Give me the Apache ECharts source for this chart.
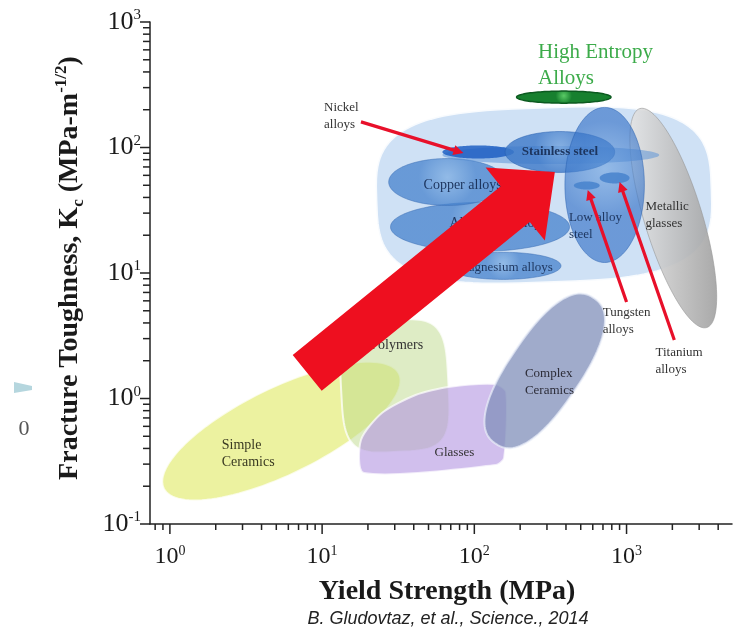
<!DOCTYPE html>
<html>
<head>
<meta charset="utf-8">
<script src="https://cdn.jsdelivr.net/npm/echarts@6/dist/echarts.min.js"></script>
<style>
  html, body { margin: 0; padding: 0; background: #fff; }
  #chart { width: 735px; height: 636px; }
</style>
</head>
<body>
<div id="chart"></div>
<script>
// axes: yield strength (MPa) vs fracture toughness (MPa·m^1/2), both log
const xRange = [0.74, 4930];
const yRange = [0.1, 1000];

// material fields: [x centre, y centre, half width (x decades), half height (y decades), tilt deg, squareness]
const simpleCeramics = [[5.4, 0.55, 0.86, 0.345, -26, 2]];
const polymers = [[30.0, 1.26, 0.353, 0.526, -3, 4]];
const complexCeramics = [[290, 1.66, 0.235, 0.70, 34, 2.4]];
const metalsEnvelope = [[287, 41.8, 1.105, 0.70, -2, 3.3]];
const metallicGlasses = [[2028, 27.4, 0.19, 0.912, -17, 2]];
const aluminumAlloys = [[109, 23.3, 0.588, 0.195, 0, 2]];
const copperAlloys = [[66.6, 53.1, 0.386, 0.187, 0, 2]];
const magnesiumAlloys = [[155, 11.4, 0.379, 0.108, 0, 2]];
const nickelBand = [[318, 87.1, 0.712, 0.072, 0, 2]];
const nickelAlloys = [[106, 92.1, 0.235, 0.052, 0, 2]];
const stainlessSteel = [[365, 92.1, 0.36, 0.163, 0, 2]];
const lowAlloySteel = [[718, 50.3, 0.261, 0.618, 0, 2]];
const tungstenAlloys = [[548, 49.8, 0.085, 0.032, 0, 2]];
const titaniumAlloys = [[835, 57.2, 0.098, 0.044, 0, 2]];
const highEntropyAlloys = [[387, 252, 0.31, 0.048, 0, 2]];

// glasses field outline (x, y)
const glassesOutline = [
  [18.8, 0.255], [18.0, 0.467], [24.7, 0.766], [41.1, 1.066], [67.6, 1.235],
  [137, 1.305], [162, 1.127], [157, 0.336], [139, 0.295]
];

// arrows: [x from, y from, x to, y to]
const trendArrow = [[7.98, 1.60, 338, 63.8]];
const pointerArrows = [
  [18.0, 160, 84.8, 90.4],   // nickel
  [1000, 5.87, 556, 45.9],   // tungsten
  [2060, 2.93, 900, 53.1]    // titanium
];

// labels and where they sit (x, y)
const labelTexts = ['Nickel\nalloys', 'Stainless steel', 'Copper alloys', 'Aluminum alloys',
  'Magnesium alloys', 'Low alloy\nsteel', 'Metallic\nglasses', 'Tungsten\nalloys',
  'Titanium\nalloys', 'Polymers', 'Simple\nCeramics', 'Complex\nCeramics', 'Glasses',
  'High Entropy\nAlloys'];
const labelAnchors = [[10.3, 178], [365, 92.1], [46.4, 50.3], [143.6, 25.0],
  [328, 10.96], [418, 23.7], [1331, 29.2], [697, 4.15],
  [1548, 1.97], [30.9, 2.67], [2.19, 0.365], [215, 1.34], [74, 0.368],
  [262, 454]];

const xMinorTicks = [];
const yMinorTicks = [];
for (let d = -1; d <= 3; d++) {
  for (let k = 2; k <= 9; k++) {
    const v = k * Math.pow(10, d);
    if (v > xRange[0] && v < xRange[1]) xMinorTicks.push(v);
    if (d < 3 && v > yRange[0] && v < yRange[1]) yMinorTicks.push(v);
  }
}
const xMajorTicks = [1, 10, 100, 1000];
const yMajorTicks = [0.1, 1, 10, 100, 1000];

const SERIF = '"Liberation Serif", "DejaVu Serif", serif';

const labelStyles = [
  { size: 13, color: '#333', align: 'left' },
  { size: 13, color: '#1d355e', align: 'center', weight: 'bold' },
  { size: 14, color: '#1d355e', align: 'left' },
  { size: 14, color: '#1d355e', align: 'center' },
  { size: 13, color: '#1d355e', align: 'right' },
  { size: 13, color: '#1d355e', align: 'left' },
  { size: 13, color: '#333', align: 'left' },
  { size: 13, color: '#333', align: 'left' },
  { size: 13, color: '#333', align: 'left' },
  { size: 14, color: '#333', align: 'center' },
  { size: 14, color: '#3a3a22', align: 'left' },
  { size: 13, color: '#2c2c38', align: 'left' },
  { size: 13, color: '#333', align: 'center' },
  { size: 21, color: '#3cab4a', align: 'left', lh: 26 }
];

function decades(api) {
  const o = api.coord([1, 1]);
  return [api.coord([10, 1])[0] - o[0], o[1] - api.coord([1, 10])[1]];
}

function fieldPoints(api) {
  const c = api.coord([api.value(0), api.value(1)]);
  const dec = decades(api);
  const rx = api.value(2) * dec[0], ry = api.value(3) * dec[1];
  const th = api.value(4) * Math.PI / 180, n = api.value(5);
  const pts = [];
  for (let i = 0; i < 120; i++) {
    const t = i / 120 * 2 * Math.PI;
    const ct = Math.cos(t), st = Math.sin(t);
    const u = rx * Math.sign(ct) * Math.pow(Math.abs(ct), 2 / n);
    const w = ry * Math.sign(st) * Math.pow(Math.abs(st), 2 / n);
    pts.push([c[0] + u * Math.cos(th) - w * Math.sin(th), c[1] + u * Math.sin(th) + w * Math.cos(th)]);
  }
  return pts;
}

function radial(inner, outer) {
  return { type: 'radial', x: 0.5, y: 0.4, r: 0.6, colorStops: [{ offset: 0, color: inner }, { offset: 1, color: outer }] };
}

function field(name, rows, style) {
  return {
    type: 'custom', name: name, data: rows, silent: true,
    renderItem: (params, api) => ({ type: 'polygon', shape: { points: fieldPoints(api) }, style: style })
  };
}

function arrowSeries(rows, shaft, head, headLen, color) {
  return {
    type: 'custom', data: rows, silent: true, clip: false,
    renderItem: (params, api) => {
      const a = api.coord([api.value(0), api.value(1)]);
      const b = api.coord([api.value(2), api.value(3)]);
      const len = Math.hypot(b[0] - a[0], b[1] - a[1]);
      const ux = (b[0] - a[0]) / len, uy = (b[1] - a[1]) / len;
      const nx = -uy, ny = ux;
      const bx = b[0] - ux * headLen, by = b[1] - uy * headLen;
      return {
        type: 'polygon',
        shape: { points: [
          [a[0] + nx * shaft, a[1] + ny * shaft], [bx + nx * shaft, by + ny * shaft],
          [bx + nx * head, by + ny * head], [b[0], b[1]],
          [bx - nx * head, by - ny * head], [bx - nx * shaft, by - ny * shaft],
          [a[0] - nx * shaft, a[1] - ny * shaft]
        ] },
        style: { fill: color }
      };
    }
  };
}

function tickSeries(values, onX, len) {
  return {
    type: 'custom', silent: true, clip: false,
    data: values.map(v => onX ? [v, yRange[0]] : [xRange[0], v]),
    renderItem: (params, api) => {
      const p = api.coord([api.value(0), api.value(1)]);
      const shape = onX ? { x1: p[0], y1: p[1], x2: p[0], y2: p[1] + len }
                        : { x1: p[0], y1: p[1], x2: p[0] - len, y2: p[1] };
      return { type: 'line', shape: shape, style: { stroke: '#222', lineWidth: 1.5 } };
    }
  };
}

function powerLabel(v) {
  const e = Math.log10(v);
  if (Math.abs(e - Math.round(e)) > 1e-6) return '';
  return '{b|10}{s|' + Math.round(e) + '}';
}

const chart = echarts.init(document.getElementById('chart'));
chart.setOption({
  animation: false,
  backgroundColor: '#fff',
  grid: { left: 150, right: 0, top: 22, bottom: 112 },
  xAxis: {
    type: 'log', logBase: 10, min: xRange[0], max: xRange[1],
    axisLine: { show: true, lineStyle: { color: '#222', width: 1.5 } },
    axisTick: { show: false }, splitLine: { show: false },
    axisLabel: {
      margin: 20, color: '#1a1a1a', formatter: powerLabel,
      rich: {
        b: { fontFamily: SERIF, fontSize: 24, lineHeight: 26, color: '#1a1a1a' },
        s: { fontFamily: SERIF, fontSize: 14, lineHeight: 14, verticalAlign: 'top', color: '#1a1a1a' }
      }
    }
  },
  yAxis: {
    type: 'log', logBase: 10, min: yRange[0], max: yRange[1],
    axisLine: { show: true, lineStyle: { color: '#222', width: 1.5 } },
    axisTick: { show: false }, splitLine: { show: false },
    axisLabel: {
      margin: 9, color: '#1a1a1a', formatter: powerLabel,
      rich: {
        b: { fontFamily: SERIF, fontSize: 26, lineHeight: 28, color: '#1a1a1a' },
        s: { fontFamily: SERIF, fontSize: 15, lineHeight: 15, verticalAlign: 'top', color: '#1a1a1a' }
      }
    }
  },
  graphic: [
    {
      type: 'text', x: 70, y: 268, rotation: Math.PI / 2,
      style: {
        text: '{a|Fracture Toughness, K}{b|c}{a| (MPa-m}{c|-1/2}{a|)}',
        align: 'center', verticalAlign: 'middle', fill: '#1a1a1a',
        rich: {
          a: { fontFamily: SERIF, fontSize: 28, fontWeight: 'bold', lineHeight: 34 },
          b: { fontFamily: SERIF, fontSize: 17, fontWeight: 'bold', lineHeight: 14, verticalAlign: 'bottom' },
          c: { fontFamily: SERIF, fontSize: 17, fontWeight: 'bold', lineHeight: 14, verticalAlign: 'top' }
        }
      }
    },
    {
      type: 'text', x: 447, y: 592,
      style: { text: 'Yield Strength (MPa)', fontFamily: SERIF, fontSize: 28, fontWeight: 'bold',
        fill: '#1a1a1a', align: 'center', verticalAlign: 'middle' }
    },
    {
      type: 'text', x: 448, y: 619,
      style: { text: 'B. Gludovtaz, et al., Science., 2014', fontFamily: '"Liberation Sans", Arial, sans-serif',
        fontSize: 18, fontStyle: 'italic', fill: '#222', align: 'center', verticalAlign: 'middle' }
    },
    { type: 'polygon', shape: { points: [[14, 382], [32, 386], [32, 390], [14, 393]] }, style: { fill: '#b5d6de' } },
    { type: 'text', x: 24, y: 429, style: { text: '0', fontFamily: SERIF, fontSize: 22, fill: '#555', align: 'center', verticalAlign: 'middle' } }
  ],
  series: [
    tickSeries(xMajorTicks, true, 10),
    tickSeries(xMinorTicks, true, 6),
    tickSeries(yMajorTicks, false, 10),
    tickSeries(yMinorTicks, false, 7),
    field('Simple ceramics', simpleCeramics, { fill: 'rgba(228,237,120,0.7)', stroke: 'rgba(255,255,255,0.75)', lineWidth: 2 }),
    field('Polymers', polymers, { fill: 'rgba(190,218,140,0.5)', stroke: 'rgba(255,255,255,0.75)', lineWidth: 2 }),
    {
      type: 'custom', name: 'Glasses', silent: true, data: [[1, 1]],
      renderItem: (params, api) => ({
        type: 'polygon',
        shape: { points: glassesOutline.map(p => api.coord(p)), smooth: 0.25 },
        style: { fill: 'rgba(178,148,225,0.6)', stroke: 'rgba(255,255,255,0.7)', lineWidth: 2 }
      })
    },
    field('Complex ceramics', complexCeramics, { fill: 'rgba(128,143,185,0.75)', stroke: 'rgba(235,240,250,0.7)', lineWidth: 2 }),
    field('Metals', metalsEnvelope, { fill: 'rgba(160,196,236,0.5)', stroke: 'rgba(255,255,255,0.85)', lineWidth: 3 }),
    field('Metallic glasses', metallicGlasses, {
      fill: { type: 'linear', x: 0, y: 0, x2: 1, y2: 0, colorStops: [
        { offset: 0, color: 'rgba(228,228,228,0.9)' }, { offset: 1, color: 'rgba(160,160,160,0.9)' }] },
      stroke: 'rgba(150,150,150,0.6)', lineWidth: 1 }),
    field('Aluminum alloys', aluminumAlloys, { fill: radial('rgba(120,170,225,0.7)', 'rgba(70,130,205,0.75)'), stroke: 'rgba(60,110,180,0.5)', lineWidth: 1 }),
    field('Copper alloys', copperAlloys, { fill: radial('rgba(120,170,225,0.7)', 'rgba(70,130,205,0.75)'), stroke: 'rgba(60,110,180,0.5)', lineWidth: 1 }),
    field('Magnesium alloys', magnesiumAlloys, { fill: radial('rgba(120,170,225,0.7)', 'rgba(70,130,205,0.75)'), stroke: 'rgba(60,110,180,0.5)', lineWidth: 1 }),
    field('Nickel band', nickelBand, { fill: 'rgba(95,150,215,0.55)' }),
    field('Nickel alloys', nickelAlloys, { fill: 'rgba(30,95,195,0.85)' }),
    field('Stainless steel', stainlessSteel, { fill: radial('rgba(110,160,220,0.75)', 'rgba(60,120,200,0.8)'), stroke: 'rgba(40,95,175,0.5)', lineWidth: 1 }),
    field('Low alloy steel', lowAlloySteel, { fill: radial('rgba(100,155,220,0.55)', 'rgba(55,115,200,0.65)'), stroke: 'rgba(40,95,175,0.5)', lineWidth: 1 }),
    field('Tungsten alloys', tungstenAlloys, { fill: 'rgba(70,130,205,0.85)' }),
    field('Titanium alloys', titaniumAlloys, { fill: 'rgba(70,130,205,0.85)' }),
    field('High entropy alloys', highEntropyAlloys, { fill: radial('#5acb66', '#17802f'), stroke: '#0c5a20', lineWidth: 1.5 }),
    {
      type: 'custom', silent: true, clip: false, data: labelAnchors,
      renderItem: (params, api) => {
        const p = api.coord([api.value(0), api.value(1)]);
        const s = labelStyles[params.dataIndex];
        return {
          type: 'text', x: p[0], y: p[1],
          style: { text: labelTexts[params.dataIndex], fontFamily: SERIF, fontSize: s.size,
            fontWeight: s.weight || 'normal', fill: s.color, align: s.align, verticalAlign: 'middle',
            lineHeight: s.lh || 17 }
        };
      }
    },
    arrowSeries(trendArrow, 23, 47, 51, '#ee0f1f'),
    arrowSeries(pointerArrows, 1.6, 5, 10, '#e8102a')
  ]
});
</script>
</body>
</html>
